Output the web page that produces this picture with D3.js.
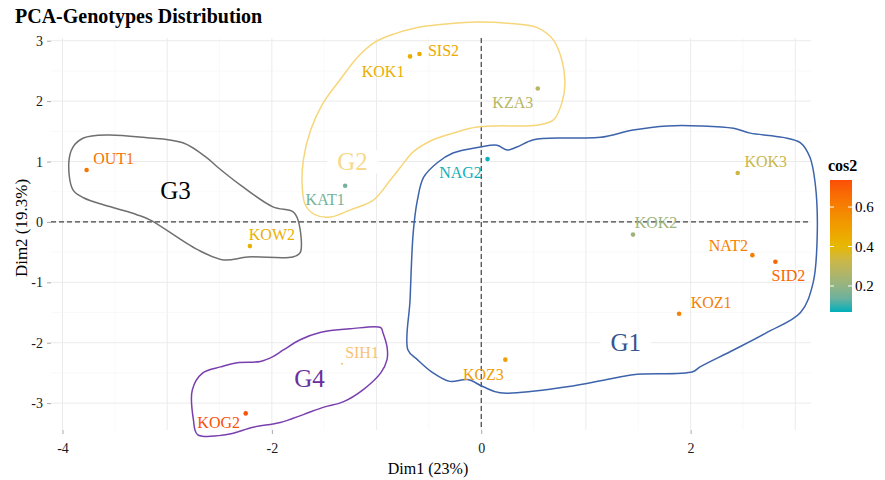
<!DOCTYPE html>
<html>
<head>
<meta charset="utf-8">
<script src="https://cdn.jsdelivr.net/npm/d3@7"></script>
<style>
  body { margin: 0; background: #fff; }
  svg { font-family: "Liberation Serif", "DejaVu Serif", serif; }
</style>
</head>
<body>
<svg width="885" height="480"></svg>
<script>
// genotypes on the first two PCA dimensions
var genotypes = ["OUT1", "KOW2", "KAT1", "KOK1", "SIS2", "KZA3", "NAG2", "KOK3",
                 "KOK2", "NAT2", "SID2", "KOZ1", "KOZ3", "SIH1", "KOG2"];
var dim1 = [-3.77, -2.21, -1.30, -0.68, -0.59, 0.54, 0.06, 2.45,
            1.45, 2.59, 2.81, 1.89, 0.23, -1.33, -2.25];
var dim2 = [0.86, -0.40, 0.60, 2.74, 2.78, 2.21, 1.04, 0.81,
            -0.21, -0.55, -0.66, -1.52, -2.28, -2.35, -3.17];
var cos2 = [0.64, 0.43, 0.15, 0.44, 0.46, 0.28, 0.07, 0.33,
            0.22, 0.60, 0.68, 0.60, 0.50, 0.55, 0.73];
var faded = ["SIH1"];

var xTicks = [-4, -2, 0, 2];
var yTicks = [-3, -2, -1, 0, 1, 2, 3];
var legendTicks = [0.2, 0.4, 0.6];

// hand drawn group outlines (Dim1, Dim2)
var hullG1 = [[-0.42,0.98],[-0.27,1.14],[-0.01,1.24],[0.15,1.27],[0.25,1.19],[0.34,1.24],[0.50,1.36],
  [0.82,1.39],[1.14,1.40],[1.45,1.52],[1.78,1.59],[2.09,1.59],[2.41,1.55],[2.57,1.47],[2.88,1.40],
  [3.05,1.31],[3.14,1.07],[3.19,0.64],[3.21,-0.18],[3.17,-1.01],[3.05,-1.50],[2.73,-1.83],[2.41,-2.12],
  [2.09,-2.40],[2.02,-2.48],[1.45,-2.53],[1.20,-2.61],[0.82,-2.73],[0.18,-2.83],[0.02,-2.73],
  [-0.13,-2.61],[-0.30,-2.64],[-0.46,-2.50],[-0.61,-2.28],[-0.70,-2.12],[-0.68,-1.29],[-0.65,-0.18],
  [-0.61,0.36],[-0.55,0.74]];
var hullG2 = [[-0.87,3.09],[-0.61,3.22],[-0.39,3.27],[-0.04,3.31],[0.25,3.29],[0.53,3.22],[0.69,3.01],
  [0.77,2.68],[0.80,2.30],[0.77,1.97],[0.69,1.69],[0.53,1.60],[0.15,1.59],[-0.04,1.57],[-0.23,1.49],
  [-0.46,1.36],[-0.65,1.16],[-0.77,0.91],[-0.87,0.69],[-1.03,0.36],[-1.25,0.20],[-1.44,0.08],
  [-1.59,0.12],[-1.68,0.28],[-1.71,0.58],[-1.70,1.02],[-1.63,1.52],[-1.51,1.97],[-1.35,2.35],
  [-1.18,2.73],[-1.03,2.96]];
var hullG3 = [[-3.80,1.39],[-3.57,1.44],[-3.23,1.40],[-2.85,1.31],[-2.62,1.06],[-2.52,0.91],[-2.30,0.61],
  [-1.99,0.25],[-1.80,0.17],[-1.75,0.03],[-1.73,-0.51],[-1.80,-0.58],[-2.23,-0.58],[-2.46,-0.63],
  [-2.71,-0.46],[-3.16,0.03],[-3.29,0.12],[-3.54,0.25],[-3.80,0.40],[-3.90,0.53],[-3.94,0.98],[-3.90,1.24]];
var hullG4 = [[-2.76,-2.78],[-2.66,-2.50],[-2.49,-2.40],[-2.33,-2.33],[-2.11,-2.31],[-1.99,-2.23],
  [-1.89,-2.12],[-1.73,-1.95],[-1.54,-1.83],[-1.25,-1.77],[-0.96,-1.75],[-0.94,-1.83],[-0.90,-2.07],
  [-0.90,-2.28],[-0.96,-2.50],[-1.13,-2.78],[-1.32,-2.98],[-1.51,-3.07],[-1.70,-3.19],[-1.92,-3.32],
  [-2.18,-3.40],[-2.43,-3.52],[-2.71,-3.52],[-2.75,-3.27]];

var groupNames = ["G1", "G2", "G3", "G4"];
var groupX = [1.38, -1.23, -2.92, -1.64];
var groupY = [-2.00, 1.00, 0.53, -2.58];

// label offsets in px (like ggrepel placement)
var labelOffset = {
  OUT1: [27, -12], KOW2: [22, -12], KAT1: [-20, 14], KOK1: [-27, 15], SIS2: [24, -4],
  KZA3: [-25, 14], NAG2: [-27, 13], KOK3: [28, -12], KOK2: [23, -12], NAT2: [-24, -10],
  SID2: [13, 14], KOZ1: [32, -11], KOZ3: [-22, 15], SIH1: [20, -11], KOG2: [-27, 9]
};
var hullColors = ["#3d63ab", "#f7d67a", "#6f6f6f", "#7a3fae"];
var groupColors = ["#35548f", "#f7d98c", "#000000", "#6a2f9e"];

var svg = d3.select("svg");

var x = d3.scaleLinear().domain([-4.11, 3.15]).range([51, 811]);
var y = d3.scaleLinear().domain([-3.445, 3.045]).range([430, 38]);

var color = d3.scaleLinear()
    .domain([0.068, 0.4025, 0.737])
    .range(["#00AFBB", "#E7B800", "#FC4E07"])
    .interpolate(d3.interpolateLab);

// grid
var grid = svg.append("g");
d3.range(-4, 3.01, 0.5).forEach(function(v) {
  grid.append("line")
    .attr("x1", x(v)).attr("x2", x(v)).attr("y1", y.range()[1]).attr("y2", y.range()[0])
    .attr("stroke", v % 1 === 0 ? "#ebebeb" : "#f5f5f5")
    .attr("stroke-width", v % 1 === 0 ? 1 : 0.6);
});
d3.range(-3, 3.01, 0.5).forEach(function(v) {
  grid.append("line")
    .attr("y1", y(v)).attr("y2", y(v)).attr("x1", x.range()[0]).attr("x2", x.range()[1])
    .attr("stroke", v % 1 === 0 ? "#ebebeb" : "#f5f5f5")
    .attr("stroke-width", v % 1 === 0 ? 1 : 0.6);
});

// axes
var fmt = function(d) { return String(d); };
var xAxis = svg.append("g")
    .attr("transform", "translate(0,430)")
    .call(d3.axisBottom(x).tickValues(xTicks).tickSize(4).tickPadding(9).tickFormat(fmt));
var yAxis = svg.append("g")
    .attr("transform", "translate(51,0)")
    .call(d3.axisLeft(y).tickValues(yTicks).tickSize(4).tickPadding(4).tickFormat(fmt));
[xAxis, yAxis].forEach(function(a) {
  a.attr("font-family", "Liberation Serif, serif").attr("font-size", 14);
  a.select(".domain").remove();
  a.selectAll(".tick line").attr("stroke", "#aaa");
  a.selectAll(".tick text").attr("fill", "#1a1a1a");
});

// reference lines
svg.append("line")
  .attr("x1", x(0)).attr("x2", x(0)).attr("y1", y.range()[1]).attr("y2", y.range()[0])
  .attr("stroke", "#444").attr("stroke-dasharray", "5,3").attr("stroke-width", 1.2);
svg.append("line")
  .attr("y1", y(0)).attr("y2", y(0)).attr("x1", x.range()[0]).attr("x2", x.range()[1])
  .attr("stroke", "#444").attr("stroke-dasharray", "5,3").attr("stroke-width", 1.2);

// hulls
var line = d3.line()
    .x(function(d) { return x(d[0]); })
    .y(function(d) { return y(d[1]); })
    .curve(d3.curveCatmullRomClosed.alpha(0.5));
[hullG1, hullG2, hullG3, hullG4].forEach(function(h, i) {
  svg.append("path")
    .attr("d", line(h))
    .attr("fill", "none")
    .attr("stroke", hullColors[i])
    .attr("stroke-width", 1.5);
});

// group labels
var gl = svg.append("g");
groupNames.forEach(function(g, i) {
  var t = gl.append("text")
    .attr("x", x(groupX[i])).attr("y", y(groupY[i]))
    .attr("text-anchor", "middle").attr("dy", "0.35em")
    .attr("font-size", 25)
    .attr("fill", groupColors[i])
    .text(g);
  if (g === "G1" || g === "G2") {
    var bb = t.node().getBBox();
    gl.insert("rect", function() { return t.node(); })
      .attr("x", bb.x - 10).attr("y", bb.y + 2).attr("width", bb.width + 20).attr("height", bb.height - 4)
      .attr("fill", "#fff");
  }
});

// points + labels
var pts = genotypes.map(function(name, i) {
  return { name: name, d1: dim1[i], d2: dim2[i], cos2: cos2[i] };
});

svg.append("g").selectAll("circle")
  .data(pts)
  .enter().append("circle")
    .attr("cx", function(d) { return x(d.d1); })
    .attr("cy", function(d) { return y(d.d2); })
    .attr("r", function(d) { return faded.indexOf(d.name) >= 0 ? 1 : 2.3; })
    .attr("fill", function(d) { return color(d.cos2); })
    .attr("opacity", function(d) { return faded.indexOf(d.name) >= 0 ? 0.6 : 1; });

svg.append("g").selectAll("text")
  .data(pts)
  .enter().append("text")
    .attr("x", function(d) { return x(d.d1) + labelOffset[d.name][0]; })
    .attr("y", function(d) { return y(d.d2) + labelOffset[d.name][1]; })
    .attr("text-anchor", "middle")
    .attr("dy", "0.35em")
    .attr("font-size", 16)
    .attr("fill", function(d) { return color(d.cos2); })
    .attr("opacity", function(d) { return faded.indexOf(d.name) >= 0 ? 0.55 : 1; })
    .text(function(d) { return d.name; });

// titles
svg.append("text")
  .attr("x", 15).attr("y", 23)
  .attr("font-size", 20).attr("font-weight", "bold")
  .text("PCA-Genotypes Distribution");
svg.append("text")
  .attr("x", 428).attr("y", 474)
  .attr("text-anchor", "middle").attr("font-size", 16)
  .text("Dim1 (23%)");
svg.append("text")
  .attr("transform", "translate(27,228) rotate(-90)")
  .attr("text-anchor", "middle").attr("font-size", 17)
  .text("Dim2 (19.3%)");

// legend
var lg = svg.append("g").attr("class", "key");
var ly = d3.scaleLinear().domain([color.domain()[0], color.domain()[2]]).range([312, 180]);
var defs = svg.append("defs");
var grad = defs.append("linearGradient").attr("id", "cosgrad")
  .attr("x1", 0).attr("x2", 0).attr("y1", 1).attr("y2", 0);
d3.range(0, 1.001, 0.1).forEach(function(t) {
  grad.append("stop").attr("offset", t)
    .attr("stop-color", color(ly.domain()[0] + t * (ly.domain()[1] - ly.domain()[0])));
});
lg.append("rect")
  .attr("x", 830).attr("y", ly.range()[1]).attr("width", 22)
  .attr("height", ly.range()[0] - ly.range()[1])
  .attr("fill", "url(#cosgrad)");
legendTicks.forEach(function(v) {
  lg.append("line").attr("x1", 830).attr("x2", 834).attr("y1", ly(v)).attr("y2", ly(v))
    .attr("stroke", "#fff").attr("stroke-width", 1);
  lg.append("line").attr("x1", 848).attr("x2", 852).attr("y1", ly(v)).attr("y2", ly(v))
    .attr("stroke", "#fff").attr("stroke-width", 1);
  lg.append("text").attr("x", 855).attr("y", ly(v)).attr("dy", "0.35em")
    .attr("font-size", 15).text(v.toFixed(1));
});
lg.append("text")
  .attr("x", 828).attr("y", 171)
  .attr("font-size", 16).attr("font-weight", "bold")
  .text("cos2");
</script>
</body>
</html>
